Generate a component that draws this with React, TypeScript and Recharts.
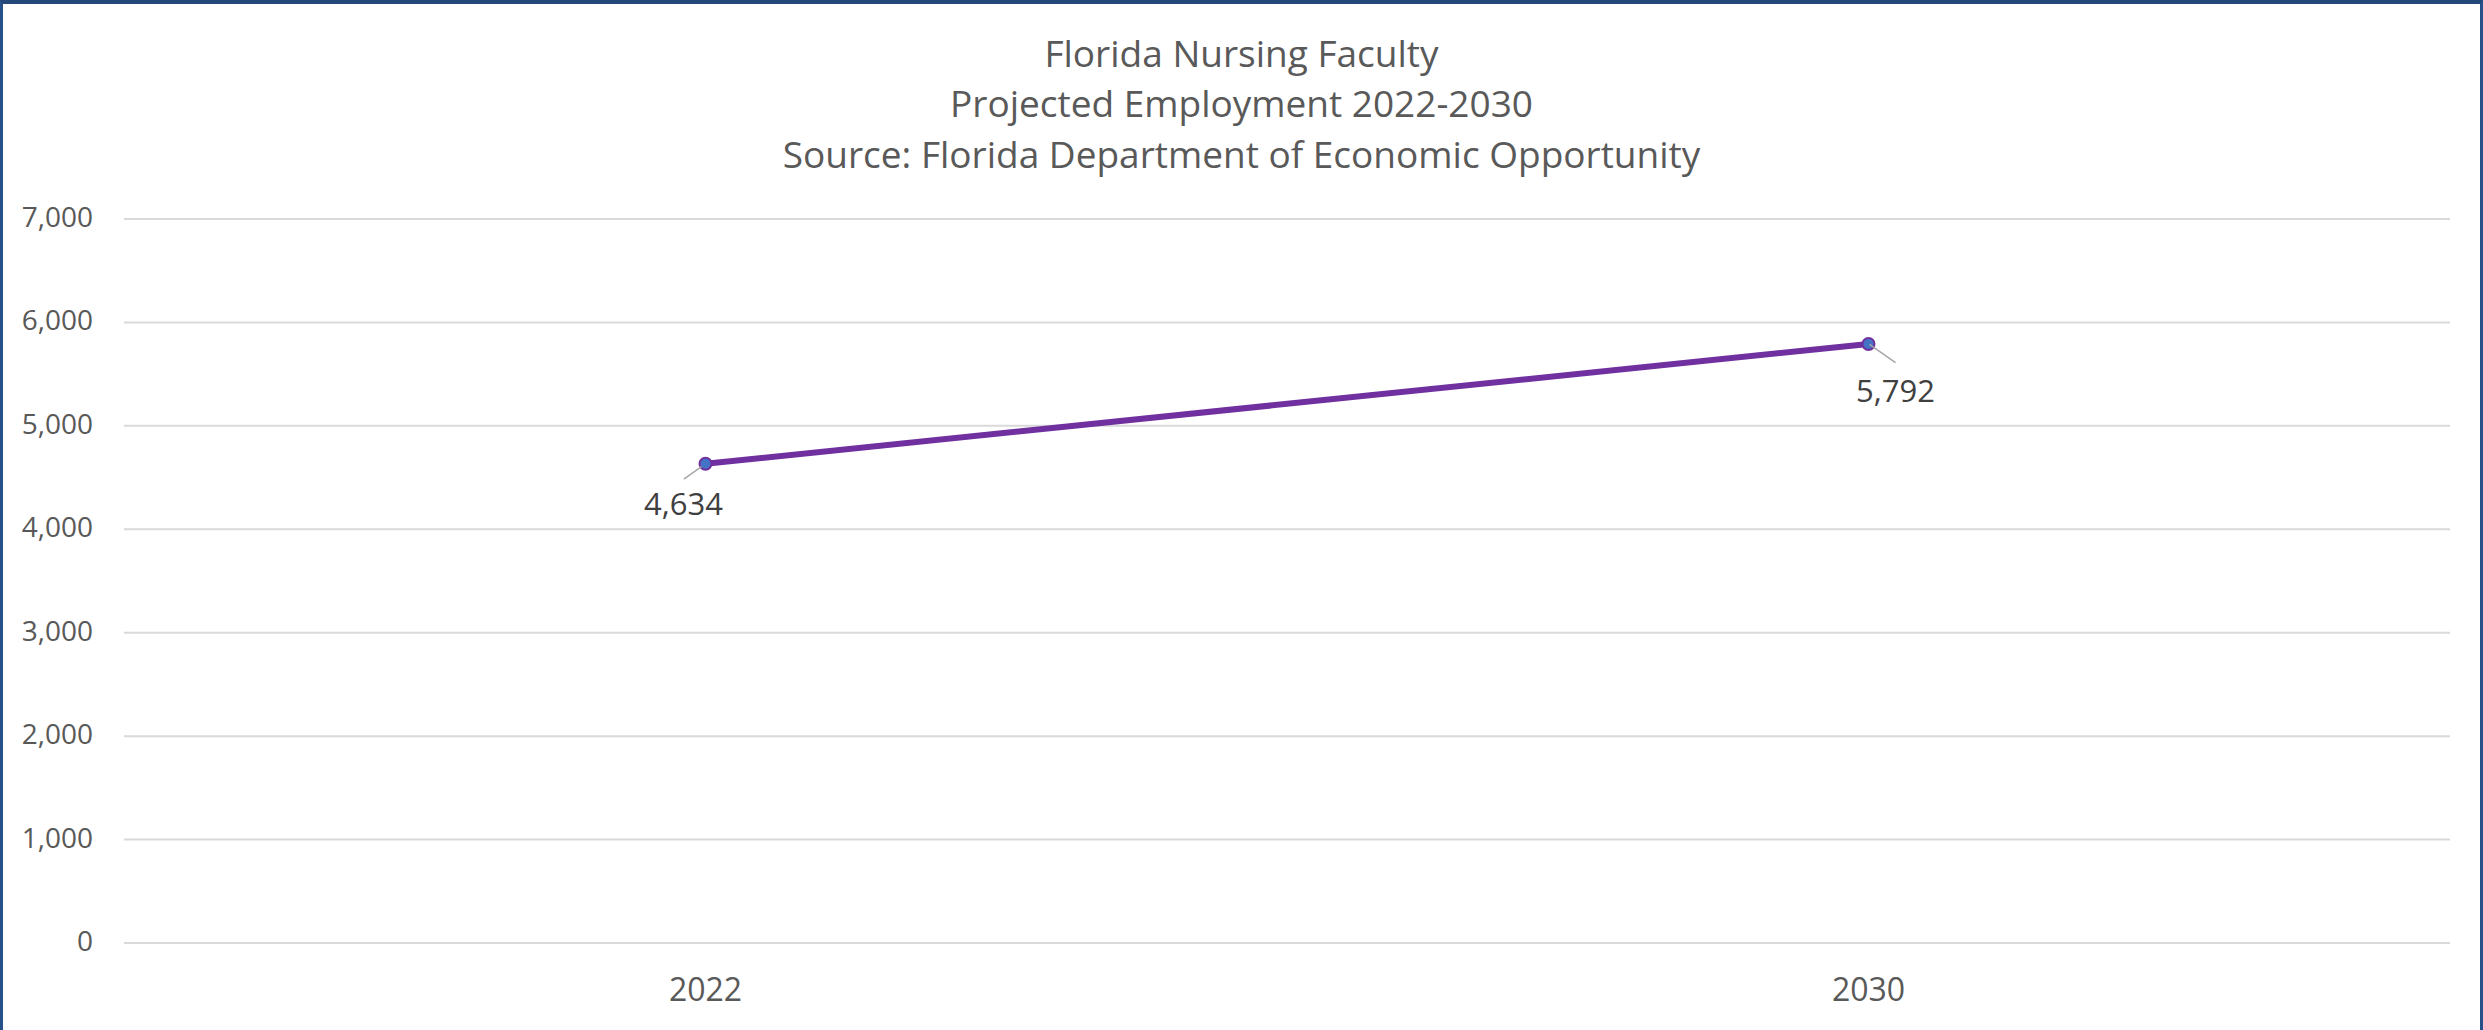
import React from 'react';
import { LineChart, Line, XAxis, YAxis, CartesianGrid, LabelList } from 'recharts';

const YEARS = ['2022', '2030'];
const EMPLOYMENT = [4634, 5792];
const Y_TICKS = [0, 1000, 2000, 3000, 4000, 5000, 6000, 7000];
const TITLE_LINES = [
  'Florida Nursing Faculty',
  'Projected Employment 2022-2030',
  'Source: Florida Department of Economic Opportunity',
];

const data = YEARS.map((year, i) => ({ year, value: EMPLOYMENT[i] }));

const FONT = '"Open Sans", sans-serif';
const W = 2477;
const H = 1026;

// data-label placement relative to its point (style only)
const LABEL_OFFSETS = [
  { tx: -22, ty: 51.5, lx1: -4, ly1: 3, lx2: -21.7, ly2: 15.5 },
  { tx: 27, ty: 58, lx1: 1, ly1: 0.5, lx2: 27, ly2: 18.6 },
];

const fmt = (v: any) => Number(v).toLocaleString('en-US');

const renderLabel = (props: any) => {
  const { value, index } = props;
  const vb = props.viewBox || {};
  const x = props.x ?? vb.x;
  const y = props.y ?? vb.y;
  if (x == null || y == null) return null;
  const o = LABEL_OFFSETS[index] ?? LABEL_OFFSETS[0];
  return (
    <g>
      <line
        x1={x + o.lx1}
        y1={y + o.ly1}
        x2={x + o.lx2}
        y2={y + o.ly2}
        stroke="#a6a6a6"
        strokeWidth={1.5}
      />
      <text
        x={x + o.tx}
        y={y + o.ty}
        textAnchor="middle"
        fill="#404040"
        fontSize={31}
        fontFamily={FONT}
      >
        {fmt(value)}
      </text>
    </g>
  );
};

export default function App() {
  return (
    <div
      style={{
        position: 'absolute',
        left: 0,
        top: 0,
        width: 2483,
        height: 1030,
        boxSizing: 'border-box',
        borderTop: '4px solid #24487a',
        borderLeft: '3px solid #26508a',
        borderRight: '3px solid #26508a',
        background: '#ffffff',
        overflow: 'hidden',
      }}
    >
      <LineChart
        width={W}
        height={H}
        data={data}
        margin={{ top: 215, right: 30, bottom: 27, left: 0 }}
      >
        <CartesianGrid vertical={false} stroke="#d9d9d9" strokeWidth={2} />
        <XAxis
          dataKey="year"
          scale="band"
          height={60}
          axisLine={{ stroke: '#d9d9d9', strokeWidth: 2 }}
          tickLine={false}
          tickSize={0}
          tickMargin={35}
          tick={{ fill: '#595959', fontSize: 32, fontFamily: FONT }}
        />
        <YAxis
          width={121}
          domain={[0, 7000]}
          ticks={Y_TICKS}
          axisLine={false}
          tickLine={false}
          tickSize={0}
          tickMargin={31}
          tickFormatter={fmt}
          tick={{ fill: '#595959', fontSize: 28, fontFamily: FONT, dy: -2 }}
        />
        <Line
          type="linear"
          dataKey="value"
          stroke="#7030A0"
          strokeWidth={6}
          dot={{ r: 6, fill: '#4472C4', stroke: '#7030A0', strokeWidth: 2 }}
          activeDot={false}
          isAnimationActive={false}
        >
          <LabelList dataKey="value" content={renderLabel} />
        </Line>
      </LineChart>
      <svg
        width={W}
        height={200}
        style={{ position: 'absolute', left: 0, top: 0, pointerEvents: 'none' }}
      >
        {TITLE_LINES.map((t, i) => (
          <text
            key={i}
            x={W / 2}
            y={62.7 + i * 50.7}
            textAnchor="middle"
            fill="#595959"
            fontSize={37}
            fontFamily={FONT}
          >
            {t}
          </text>
        ))}
      </svg>
    </div>
  );
}
